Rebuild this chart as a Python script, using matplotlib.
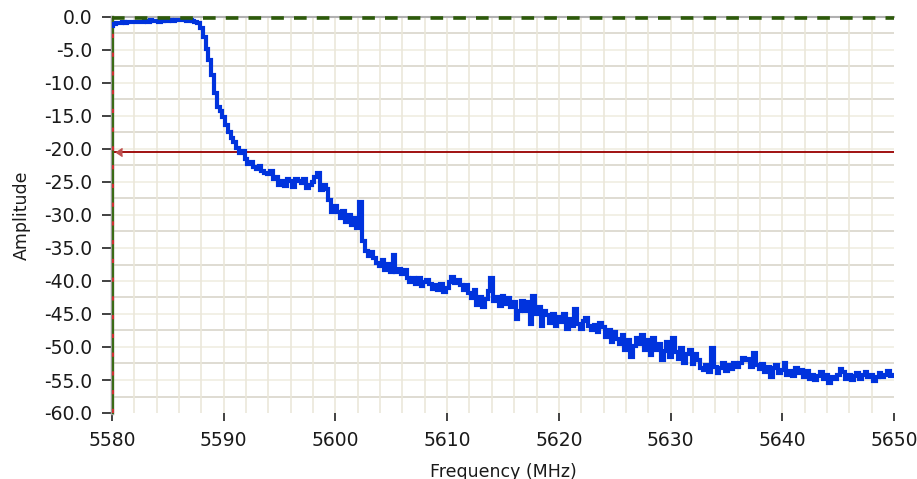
import numpy as np
import matplotlib
matplotlib.use("Agg")
import matplotlib.pyplot as plt

# ---- data ----
freq_start, freq_stop, freq_step = 5580.0, 5650.0, 0.25
amplitude = [
    -1.3, -1.0, -0.9, -0.9,    # 5580
    -0.8, -0.9, -0.8, -0.8,    # 5581
    -0.7, -0.8, -0.7, -0.7,    # 5582
    -0.6, -0.7, -0.5, -0.6,    # 5583
    -0.6, -0.7, -0.6, -0.5,    # 5584
    -0.6, -0.5, -0.6, -0.5,    # 5585
    -0.4, -0.5, -0.5, -0.6,    # 5586
    -0.5, -0.6, -0.7, -0.9,    # 5587
    -1.6, -3.0, -4.8, -6.5,    # 5588
    -8.8, -11.5, -13.6, -14.2, # 5589
    -15.2, -16.3, -17.5, -18.4,  # 5590
    -19.0, -19.8, -20.6, -20.3,  # 5591
    -21.5, -22.3, -22.0, -22.8,  # 5592
    -23.0, -22.6, -23.3, -23.6,  # 5593
    -23.8, -23.4, -24.6, -24.2,  # 5594
    -25.4, -24.8, -25.6, -24.5,  # 5595
    -24.8, -25.7, -24.6, -24.9,  # 5596
    -25.2, -24.5, -25.9, -25.4,  # 5597
    -25.0, -24.2, -23.6, -26.2,  # 5598
    -25.4, -26.0, -27.8, -29.5,  # 5599
    -28.6, -29.5, -30.5, -29.4,  # 5600
    -31.0, -30.0, -31.5, -30.4,  # 5601
    -32.0, -28.0, -34.0, -35.5,  # 5602
    -36.2, -35.6, -36.5, -37.2,  # 5603
    -37.8, -36.8, -38.3, -37.4,  # 5604
    -38.6, -36.0, -38.6, -38.2,  # 5605
    -39.0, -38.4, -39.5, -40.2,  # 5606
    -39.6, -40.4, -39.5, -40.8,  # 5607
    -40.1, -39.8, -40.5, -41.2,  # 5608
    -40.6, -41.3, -40.5, -41.6,  # 5609
    -41.0, -40.2, -39.4, -40.3,  # 5610
    -39.8, -40.6, -41.3, -40.6,  # 5611
    -41.8, -42.6, -41.4, -43.6,  # 5612
    -42.4, -44.0, -42.8, -41.5,  # 5613
    -39.6, -43.0, -42.5, -43.8,  # 5614
    -42.2, -43.5, -42.6, -44.0,  # 5615
    -43.2, -45.8, -44.5, -43.0,  # 5616
    -44.6, -43.2, -46.5, -42.3,  # 5617
    -45.0, -44.0, -46.8, -44.5,  # 5618
    -45.2, -46.4, -45.0, -46.8,  # 5619
    -45.5, -46.2, -45.0, -47.2,  # 5620
    -45.8, -46.8, -44.2, -46.5,  # 5621
    -47.2, -46.0, -45.6, -46.8,  # 5622
    -47.5, -46.6, -47.8, -46.3,  # 5623
    -47.0, -48.5, -47.5, -49.2,  # 5624
    -47.8, -48.8, -49.5, -48.2,  # 5625
    -50.5, -49.0, -51.5, -49.8,  # 5626
    -48.6, -49.5, -48.2, -50.4,  # 5627
    -49.0, -51.2, -48.6, -50.5,  # 5628
    -49.6, -52.0, -50.6, -49.2,  # 5629
    -51.5, -48.6, -50.8, -51.8,  # 5630
    -50.2, -52.5, -51.0, -50.5,  # 5631
    -52.6, -51.0, -52.0, -53.2,  # 5632
    -53.5, -52.8, -53.8, -50.2,  # 5633
    -53.0, -54.0, -53.2, -52.5,  # 5634
    -53.6, -52.8, -53.4, -52.5,  # 5635
    -53.0, -52.4, -51.6, -52.0,  # 5636
    -51.8, -53.0, -50.9, -52.8,  # 5637
    -53.4, -52.6, -53.8, -53.0,  # 5638
    -54.6, -53.2, -52.8, -54.0,  # 5639
    -53.5, -52.5, -54.2, -53.6,  # 5640
    -54.4, -53.2, -54.0, -53.5,  # 5641
    -54.5, -53.6, -54.8, -54.2,  # 5642
    -55.0, -54.4, -53.8, -54.9,  # 5643
    -54.2, -55.5, -54.6, -54.8,  # 5644
    -54.3, -53.4, -53.8, -54.8,  # 5645
    -54.2, -55.0, -54.4, -54.0,  # 5646
    -54.8, -54.2, -53.8, -54.6,  # 5647
    -54.2, -55.1, -54.5, -54.0,  # 5648
    -54.6, -54.2, -53.6, -54.4,  # 5649
    -54.2,                       # 5650
]
frequency = freq_start + freq_step * np.arange(len(amplitude))

threshold = -20.5
x_ticks = [5580, 5590, 5600, 5610, 5620, 5630, 5640, 5650]
y_ticks = [-60, -55, -50, -45, -40, -35, -30, -25, -20, -15, -10, -5, 0]

# ---- figure ----
W, H, DPI = 917, 479, 100
fig = plt.figure(figsize=(W / DPI, H / DPI), dpi=DPI)
fig.patch.set_facecolor("white")
ax = fig.add_axes([112 / W, 1 - 413 / H, (894 - 112) / W, (413 - 17) / H])
ax.set_facecolor("white")

ax.set_xlim(5580, 5650)
ax.set_ylim(-60, 0)

# grid
for yv in np.arange(-57.5, 0, 5):
    ax.axhline(yv, color="#d9d5cb", lw=1.2, zorder=1)
for yv in np.arange(-55, 0, 5):
    ax.axhline(yv, color="#f0ede2", lw=1.2, zorder=1)
for xv in np.arange(5582, 5650, 2):
    ax.axvline(xv, color="#ebe7da", lw=1.2, zorder=1)

# spines
for s in ["right", "bottom"]:
    ax.spines[s].set_visible(False)
ax.spines["top"].set_color("#b0b0b0")
ax.spines["top"].set_linewidth(1.5)
ax.spines["left"].set_color("#a0a0a0")
ax.spines["left"].set_linewidth(2.5)

# cursor lines
ax.axvline(5580.1, color="#3b6b16", lw=1.5, zorder=4, clip_on=False)
ax.axvline(5580.1, color="#d03030", lw=1.5, ls=(0, (2, 7)), zorder=5, clip_on=False)
ax.axhline(-0.1, color="#2d5a0a", lw=2.6, ls=(0, (3.5, 2.8)), zorder=5, clip_on=False)
ax.axhline(threshold, color="#a01010", lw=1.4, zorder=3)
ax.plot([5580.4], [threshold], marker=4, color="#c05050", ms=6, mew=1.0, zorder=6, clip_on=False)

# trace
ax.plot(frequency, amplitude, color="#0033dd", lw=3.0, drawstyle="steps-mid",
        solid_joinstyle="miter", zorder=4)

# ticks
ax.set_xticks(x_ticks)
ax.set_xticklabels([str(v) for v in x_ticks])
ax.set_yticks(y_ticks)
ax.set_yticklabels([f"{v:.1f}" for v in y_ticks])
ax.tick_params(axis="both", direction="out", colors="#333333", labelcolor="#1a1a1a",
               labelsize=13.5, width=1.3)
ax.tick_params(axis="y", length=7, pad=7)
ax.tick_params(axis="x", length=6, pad=7)

ax.set_ylabel("Amplitude", fontsize=12.5, color="#1a1a1a", labelpad=10)
ax.set_xlabel("Frequency (MHz)", fontsize=12.5, color="#1a1a1a", labelpad=9)

fig.savefig("out.png", dpi=DPI, facecolor="white")
